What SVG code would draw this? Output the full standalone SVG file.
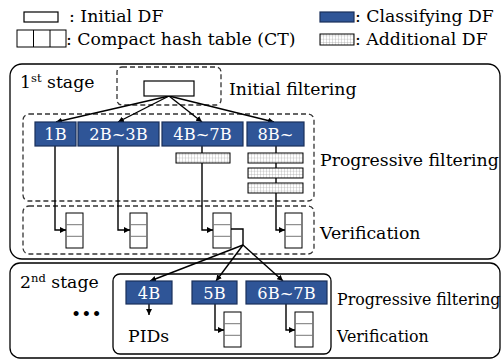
<svg xmlns="http://www.w3.org/2000/svg" width="502" height="360" viewBox="0 0 502 360">
<style>
text{font-family:"DejaVu Serif","Liberation Serif",serif}
.lg{font-size:17.3px}
.lbl{font-size:17.3px}
.lbl2{font-size:15.8px}
.nd{font-size:16.3px;fill:#fff;text-anchor:middle}
.cls{fill:#2F5597;stroke:#1A2F5A;stroke-width:1.2}
.ini{fill:#fff;stroke:#000;stroke-width:1.2}
.add{fill:url(#grid);stroke:#000;stroke-width:1}
.ct{fill:#fff;stroke:#000;stroke-width:1}
.div{stroke:#777;stroke-width:1}
.dash{fill:none;stroke:#333;stroke-width:1.3;stroke-dasharray:5,3}
.stage{fill:none;stroke:#000;stroke-width:1.3}
.con{fill:none;stroke:#000;stroke-width:1.4}
.arr{marker-end:url(#ah)}
</style>
<defs>
<pattern id="grid" width="3" height="3.3" patternUnits="userSpaceOnUse">
<rect width="3" height="3.3" fill="#fff"/>
<path d="M3,0V3.3M0,3.3H3" stroke="#999" stroke-width="0.6" fill="none"/>
</pattern>
<marker id="ah" viewBox="0 0 8 8" refX="8" refY="4" markerWidth="6" markerHeight="6" markerUnits="userSpaceOnUse" orient="auto">
<path d="M0,0L8,4L0,8z" fill="#000"/>
</marker>
</defs>

<g id="legend">
<rect class="ini" x="24" y="12" width="34" height="10"/>
<text class="lg" x="69" y="22">: Initial DF</text>
<rect class="ct" x="17" y="30" width="49" height="17"/>
<line class="ct" x1="33.5" y1="30" x2="33.5" y2="47"/>
<line class="ct" x1="50" y1="30" x2="50" y2="47"/>
<text class="lg" x="66" y="45">: Compact hash table (CT)</text>
<rect class="cls" x="320" y="12" width="34" height="10"/>
<text class="lg" x="355" y="22">: Classifying DF</text>
<rect class="add" x="320" y="34" width="34" height="11"/>
<text class="lg" x="355" y="45">: Additional DF</text>
</g>

<g id="stage1">
<rect class="stage" x="10" y="64" width="490" height="195" rx="12"/>
<text class="lbl" x="20" y="88">1<tspan font-size="11.5" dy="-6.5">st</tspan><tspan dy="6.5"> stage</tspan></text>
<rect class="dash" x="117" y="67" width="104" height="38" rx="5"/>
<text class="lbl" x="229" y="95">Initial filtering</text>
<rect class="dash" x="23" y="114" width="291" height="87" rx="6"/>
<text class="lbl" x="320" y="166">Progressive filtering</text>
<rect class="dash" x="23" y="206" width="291" height="48" rx="6"/>
<text class="lbl" x="320" y="239">Verification</text>
</g>

<g id="stage2">
<rect class="stage" x="10" y="263" width="490" height="95" rx="10"/>
<text class="lbl" x="20" y="288">2<tspan font-size="11.5" dy="-6.5">nd</tspan><tspan dy="6.5"> stage</tspan></text>
<text class="lbl" x="71" y="320">•••</text>
<rect class="stage" x="113" y="274" width="218" height="80" rx="7" stroke-width="1"/>
<text class="lbl2" x="337" y="305">Progressive filtering</text>
<text class="lbl2" x="337" y="342">Verification</text>
</g>

<g id="connectors">
<line class="con arr" x1="169" y1="96" x2="56" y2="122"/>
<line class="con arr" x1="169" y1="96" x2="118" y2="122"/>
<line class="con arr" x1="169" y1="96" x2="202" y2="122"/>
<line class="con arr" x1="169" y1="96" x2="274" y2="122"/>
<path class="con arr" d="M55,146V230H66"/>
<path class="con arr" d="M118,146V230H130"/>
<path class="con arr" d="M202,146V230H213"/>
<path class="con arr" d="M276,146V230H285"/>
<path class="con" d="M231,229H243V245"/>
<line class="con arr" x1="243" y1="245" x2="150" y2="281"/>
<line class="con arr" x1="243" y1="245" x2="216" y2="281"/>
<line class="con arr" x1="243" y1="245" x2="283" y2="281"/>
<path class="con arr" d="M149,304V315"/>
<path class="con arr" d="M215,304V330H224"/>
<path class="con arr" d="M286,304V330H295"/>
</g>

<g id="initial-df"><rect class="ini" x="144" y="81" width="50" height="15"/></g>

<g id="cls-1B"><rect class="cls" x="35" y="122" width="41" height="24"/><text class="nd" x="55.5" y="140">1B</text></g>
<g id="cls-2B-3B"><rect class="cls" x="78" y="122" width="81" height="24"/><text class="nd" x="118.5" y="140">2B~3B</text></g>
<g id="cls-4B-7B"><rect class="cls" x="162" y="122" width="81" height="24"/><text class="nd" x="202.5" y="140">4B~7B</text></g>
<g id="cls-8B"><rect class="cls" x="247" y="122" width="57" height="24"/><text class="nd" x="275.5" y="140">8B~</text></g>

<g id="add-4B-7B"><rect class="add" x="176" y="153" width="54" height="10"/></g>
<g id="add-8B"><rect class="add" x="248" y="153" width="55" height="10"/><rect class="add" x="248" y="168" width="55" height="10"/><rect class="add" x="248" y="183" width="55" height="10"/></g>

<g id="ct-1B"><rect class="ct" x="66" y="213" width="17" height="35"/><line class="div" x1="66" y1="224.7" x2="83" y2="224.7"/><line class="div" x1="66" y1="236.3" x2="83" y2="236.3"/></g>
<g id="ct-2B-3B"><rect class="ct" x="130" y="213" width="17" height="35"/><line class="div" x1="130" y1="224.7" x2="147" y2="224.7"/><line class="div" x1="130" y1="236.3" x2="147" y2="236.3"/></g>
<g id="ct-4B-7B"><rect class="ct" x="213" y="213" width="18" height="35"/><line class="div" x1="213" y1="224.7" x2="231" y2="224.7"/><line class="div" x1="213" y1="236.3" x2="231" y2="236.3"/></g>
<g id="ct-8B"><rect class="ct" x="285" y="213" width="17" height="35"/><line class="div" x1="285" y1="224.7" x2="302" y2="224.7"/><line class="div" x1="285" y1="236.3" x2="302" y2="236.3"/></g>

<g id="cls-4B"><rect class="cls" x="126" y="281" width="46" height="23"/><text class="nd" x="149" y="298.5">4B</text></g>
<g id="cls-5B"><rect class="cls" x="192" y="281" width="45" height="23"/><text class="nd" x="214.5" y="298.5">5B</text></g>
<g id="cls-6B-7B"><rect class="cls" x="246" y="281" width="81" height="23"/><text class="nd" x="286.5" y="298.5">6B~7B</text></g>
<g id="pids"><text class="lbl" x="128" y="342">PIDs</text></g>
<g id="ct-5B"><rect class="ct" x="224" y="312" width="17" height="35"/><line class="div" x1="224" y1="323.7" x2="241" y2="323.7"/><line class="div" x1="224" y1="335.3" x2="241" y2="335.3"/></g>
<g id="ct-6B-7B"><rect class="ct" x="295" y="312" width="18" height="35"/><line class="div" x1="295" y1="323.7" x2="313" y2="323.7"/><line class="div" x1="295" y1="335.3" x2="313" y2="335.3"/></g>
</svg>
